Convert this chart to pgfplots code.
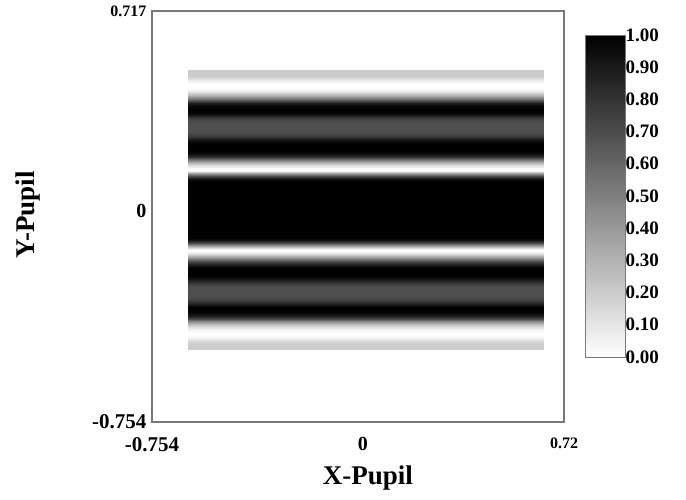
\documentclass[border=0pt]{standalone}
\usepackage{pgfplots}
\pgfplotsset{compat=1.18}
\usepackage{pgfplotstable}
\usepackage{fontspec}
\setmainfont{Liberation Serif}
\definecolor{axgray}{RGB}{120,120,120}

\pgfplotstableread{
x y z
-0.625 -0.50 0.20
0.648 -0.50 0.20
-0.625 -0.48 0.20
0.648 -0.48 0.20
-0.625 -0.47 0.15
0.648 -0.47 0.15
-0.625 -0.46 0.05
0.648 -0.46 0.05
-0.625 -0.45 0.00
0.648 -0.45 0.00
-0.625 -0.44 0.00
0.648 -0.44 0.00
-0.625 -0.43 0.04
0.648 -0.43 0.04
-0.625 -0.42 0.13
0.648 -0.42 0.13
-0.625 -0.41 0.28
0.648 -0.41 0.28
-0.625 -0.40 0.48
0.648 -0.40 0.48
-0.625 -0.39 0.70
0.648 -0.39 0.70
-0.625 -0.38 0.88
0.648 -0.38 0.88
-0.625 -0.37 0.97
0.648 -0.37 0.97
-0.625 -0.36 1.00
0.648 -0.36 1.00
-0.625 -0.35 0.99
0.648 -0.35 0.99
-0.625 -0.34 0.92
0.648 -0.34 0.92
-0.625 -0.33 0.80
0.648 -0.33 0.80
-0.625 -0.32 0.72
0.648 -0.32 0.72
-0.625 -0.305 0.69
0.648 -0.305 0.69
-0.625 -0.285 0.69
0.648 -0.285 0.69
-0.625 -0.275 0.71
0.648 -0.275 0.71
-0.625 -0.265 0.76
0.648 -0.265 0.76
-0.625 -0.255 0.85
0.648 -0.255 0.85
-0.625 -0.245 0.95
0.648 -0.245 0.95
-0.625 -0.235 1.00
0.648 -0.235 1.00
-0.625 -0.21 1.00
0.648 -0.21 1.00
-0.625 -0.20 0.93
0.648 -0.20 0.93
-0.625 -0.19 0.80
0.648 -0.19 0.80
-0.625 -0.18 0.60
0.648 -0.18 0.60
-0.625 -0.17 0.35
0.648 -0.17 0.35
-0.625 -0.16 0.15
0.648 -0.16 0.15
-0.625 -0.15 0.03
0.648 -0.15 0.03
-0.625 -0.145 0.00
0.648 -0.145 0.00
-0.625 -0.14 0.05
0.648 -0.14 0.05
-0.625 -0.13 0.35
0.648 -0.13 0.35
-0.625 -0.12 0.70
0.648 -0.12 0.70
-0.625 -0.11 0.93
0.648 -0.11 0.93
-0.625 -0.10 1.00
0.648 -0.10 1.00
-0.625 0.00 1.00
0.648 0.00 1.00
-0.625 0.10 1.00
0.648 0.10 1.00
-0.625 0.11 0.93
0.648 0.11 0.93
-0.625 0.12 0.70
0.648 0.12 0.70
-0.625 0.13 0.35
0.648 0.13 0.35
-0.625 0.14 0.05
0.648 0.14 0.05
-0.625 0.145 0.00
0.648 0.145 0.00
-0.625 0.15 0.03
0.648 0.15 0.03
-0.625 0.16 0.15
0.648 0.16 0.15
-0.625 0.17 0.35
0.648 0.17 0.35
-0.625 0.18 0.60
0.648 0.18 0.60
-0.625 0.19 0.80
0.648 0.19 0.80
-0.625 0.20 0.93
0.648 0.20 0.93
-0.625 0.21 1.00
0.648 0.21 1.00
-0.625 0.235 1.00
0.648 0.235 1.00
-0.625 0.245 0.95
0.648 0.245 0.95
-0.625 0.255 0.85
0.648 0.255 0.85
-0.625 0.265 0.76
0.648 0.265 0.76
-0.625 0.275 0.71
0.648 0.275 0.71
-0.625 0.285 0.69
0.648 0.285 0.69
-0.625 0.305 0.69
0.648 0.305 0.69
-0.625 0.32 0.72
0.648 0.32 0.72
-0.625 0.33 0.80
0.648 0.33 0.80
-0.625 0.34 0.92
0.648 0.34 0.92
-0.625 0.35 0.99
0.648 0.35 0.99
-0.625 0.36 1.00
0.648 0.36 1.00
-0.625 0.37 0.97
0.648 0.37 0.97
-0.625 0.38 0.88
0.648 0.38 0.88
-0.625 0.39 0.70
0.648 0.39 0.70
-0.625 0.40 0.48
0.648 0.40 0.48
-0.625 0.41 0.28
0.648 0.41 0.28
-0.625 0.42 0.13
0.648 0.42 0.13
-0.625 0.43 0.04
0.648 0.43 0.04
-0.625 0.44 0.00
0.648 0.44 0.00
-0.625 0.45 0.00
0.648 0.45 0.00
-0.625 0.46 0.05
0.648 0.46 0.05
-0.625 0.47 0.15
0.648 0.47 0.15
-0.625 0.48 0.20
0.648 0.48 0.20
-0.625 0.50 0.20
0.648 0.50 0.20
}\fringe

\pgfplotstableread{
x y
0 0.00
1 0.00
0 0.05
1 0.05
0 0.10
1 0.10
0 0.15
1 0.15
0 0.20
1 0.20
0 0.25
1 0.25
0 0.30
1 0.30
0 0.35
1 0.35
0 0.40
1 0.40
0 0.45
1 0.45
0 0.50
1 0.50
0 0.55
1 0.55
0 0.60
1 0.60
0 0.65
1 0.65
0 0.70
1 0.70
0 0.75
1 0.75
0 0.80
1 0.80
0 0.85
1 0.85
0 0.90
1 0.90
0 0.95
1 0.95
0 1.00
1 1.00
}\cbar

\begin{document}
\begin{tikzpicture}
\path[use as bounding box] (0,0) rectangle (686pt,499pt);
\pgfplotsset{colormap={bw}{gray(0cm)=(1); gray(1cm)=(0)}}
\begin{axis}[
  at={(152pt,77pt)}, anchor=south west,
  scale only axis, width=412pt, height=411pt,
  xmin=-0.754, xmax=0.72, ymin=-0.754, ymax=0.717,
  axis line style={axgray, line width=1.2pt},
  xtick={-0.754,0,0.72}, ytick={-0.754,0,0.717},
  xticklabels={{\fontsize{21}{21}\selectfont\bfseries -0.754},{\fontsize{20}{20}\selectfont\bfseries 0},{\fontsize{16}{16}\selectfont\bfseries 0.72}},
  yticklabels={{\fontsize{21}{21}\selectfont\bfseries -0.754},{\fontsize{20}{20}\selectfont\bfseries 0},{\fontsize{16}{16}\selectfont\bfseries 0.717}},
  major tick length=0pt,
  xticklabel style={yshift=-12pt},
  yticklabel style={xshift=-2pt},
  xlabel={\fontsize{27}{27}\selectfont\bfseries X-Pupil},
  ylabel={\fontsize{27}{27}\selectfont\bfseries Y-Pupil},
  xlabel style={at={(axis description cs:0.524,-0.136)}, anchor=center},
  ylabel style={at={(axis description cs:-0.301,0.504)}, anchor=center, rotate=0},
  point meta min=0, point meta max=1,
]
\addplot[surf, shader=interp, mesh/cols=2, point meta=explicit]
  table[x=x, y expr=\thisrow{y}+0.006, meta=z] {\fringe};
\end{axis}
% colour bar
\begin{axis}[
  at={(585pt,464pt)}, anchor=north west,
  scale only axis, width=40pt, height=322pt,
  xmin=0, xmax=1, ymin=0, ymax=1,
  axis on top,
  xtick=\empty, ytick={0,0.1,...,1},
  yticklabel pos=right,
  yticklabel style={/pgf/number format/.cd, fixed, fixed zerofill, precision=2, /tikz/.cd, font=\fontsize{19}{19}\selectfont\bfseries, xshift=-3pt},
  /pgf/number format/assume math mode=true,
  major tick length=0pt,
  axis line style={axgray, line width=0.6pt},
  point meta min=0, point meta max=1,
]
\addplot[surf, shader=interp, mesh/cols=2, point meta=y]
  table[x=x, y=y] {\cbar};
\end{axis}
\end{tikzpicture}
\end{document}
